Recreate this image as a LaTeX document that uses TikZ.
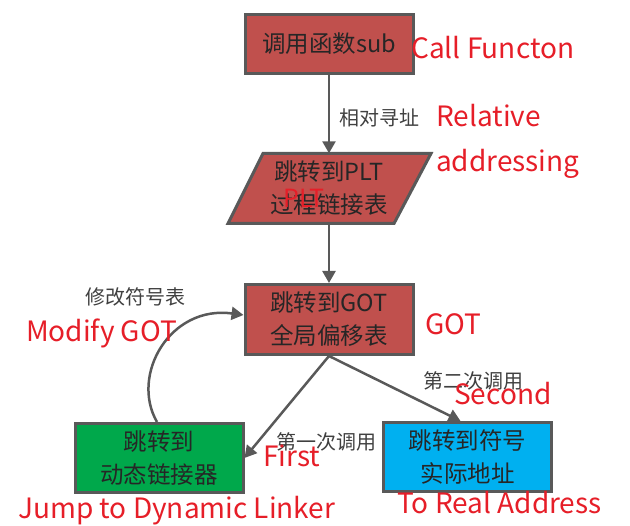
\documentclass[tikz,border=0pt]{standalone}
\usepackage{fontspec}
\setmainfont{Noto Sans CJK SC}
\usetikzlibrary{arrows.meta,calc}
\definecolor{boxred}{RGB}{192,80,77}
\definecolor{boxgreen}{RGB}{0,168,75}
\definecolor{boxblue}{RGB}{0,176,240}
\definecolor{edgegray}{RGB}{89,89,89}
\definecolor{notered}{RGB}{230,30,40}
\begin{document}
\begin{tikzpicture}[x=1pt,y=-1pt,
  box/.style={draw=edgegray, line width=3pt, minimum width=168, minimum height=69,
    inner sep=0pt, align=center, font=\fontsize{23.5}{33}\selectfont, text=black!85},
  conn/.style={draw=edgegray, line width=2.5pt, -{Triangle[length=12pt,width=13pt]}},
  lbl/.style={font=\fontsize{20}{24}\selectfont, text=black!75, inner sep=0pt},
  note/.style={font=\fontsize{28}{34}\selectfont, text=notered, inner sep=0pt, anchor=base west}]
\useasboundingbox (0,0) rectangle (630,526);

% nodes
\node[box, fill=boxred, minimum height=59] (top) at (329,44) {调用函数sub};
\fill[boxred, draw=edgegray, line width=3pt, line join=miter]
  (263,153.5) -- (431,153.5) -- (394,223.5) -- (228,223.5) -- cycle;
\node[inner sep=0pt, minimum height=70, align=center,
  font=\fontsize{23.5}{33}\selectfont, text=black!85] (plt) at (329,188.5) {跳转到PLT\\过程链接表};
\node[box, fill=boxred, minimum height=70] (got) at (329,319.5) {跳转到GOT\\全局偏移表};
\node[box, fill=boxgreen] (green) at (159,458) {跳转到\\动态链接器};
\node[box, fill=boxblue] (blue) at (467.5,457) {跳转到符号\\实际地址};

% connectors
\draw[conn] (top) -- (plt);
\draw[conn] (plt) -- (got);
\draw[conn] (got.south) -- (green.east);
\draw[conn] (got.south) -- ([xshift=-7pt]blue.north);
\draw[conn] ([xshift=-2pt]green.north) .. controls (130,375) and (170,305) .. ([yshift=4.5pt]got.west);

% labels
\node[lbl, anchor=west] (l1) at (339,118) {相对寻址};
\node[lbl, anchor=west] (l2) at (85,297) {修改符号表};
\node[lbl, anchor=west] (l3) at (423,381) {第二次调用};
\node[lbl, anchor=east] (l4) at (377,442) {第一次调用};

% red annotations
\node[note] (n1) at (411,59) {Call Functon};
\node[note] (n2) at (436,127) {Relative};
\node[note] (n3) at (436,172) {addressing};
\node[note, font=\fontsize{25}{30}\selectfont] (n4) at (283,208) {PLT};
\node[note] (n5) at (26,342) {Modify GOT};
\node[note] (n6) at (425,335) {GOT};
\node[note] (n7) at (454,405) {Second};
\node[note] (n8) at (263,467) {First};
\node[note] (n9) at (18,519) {Jump to Dynamic Linker};
\node[note] (n10) at (397,514) {To Real Address};
\end{tikzpicture}
\end{document}
